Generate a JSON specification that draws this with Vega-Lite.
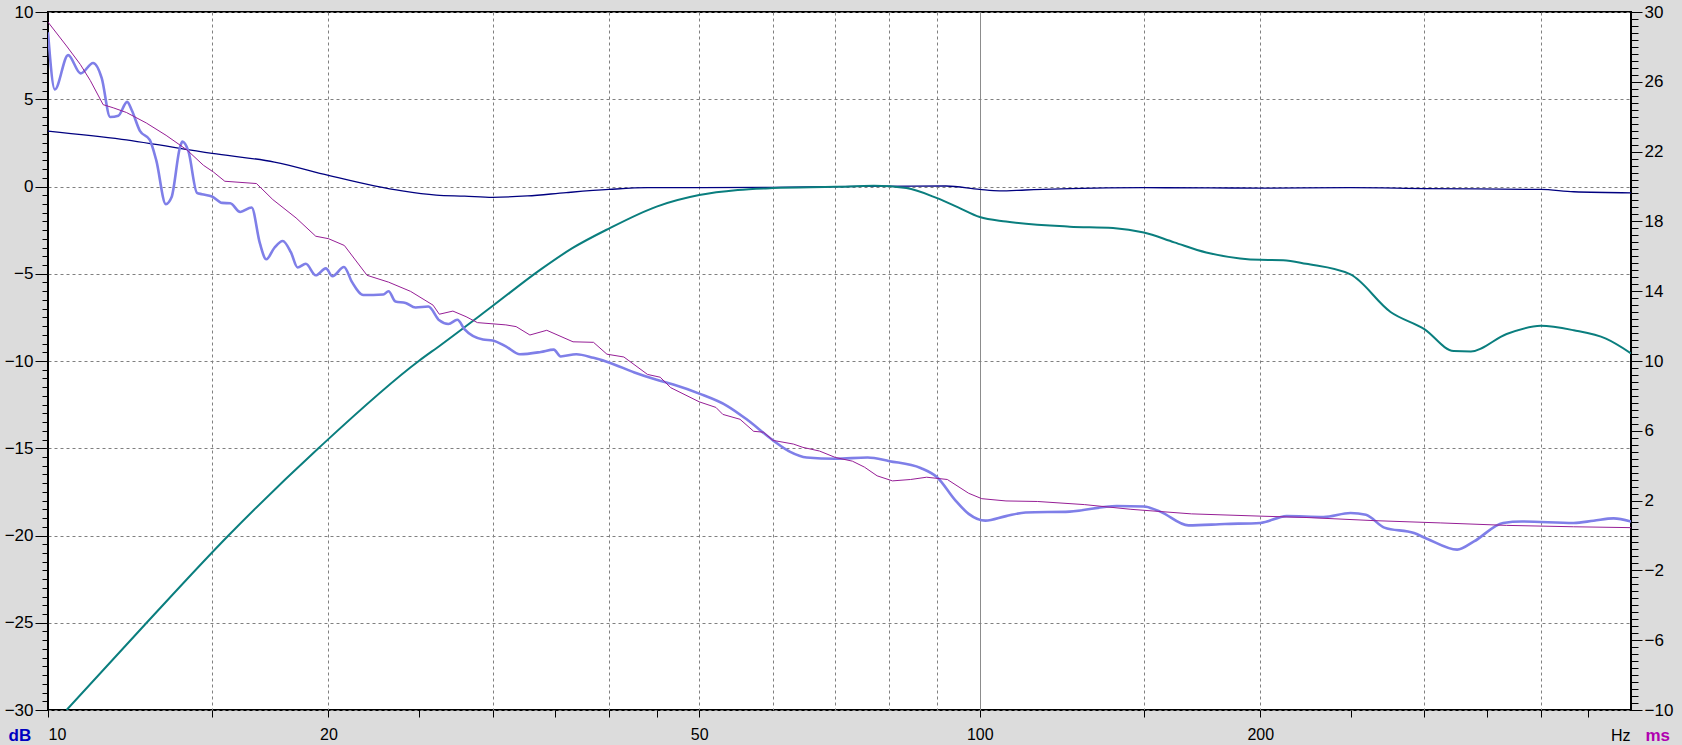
{
  "$schema": "https://vega.github.io/schema/vega-lite/v6.json",
  "width": 1583,
  "height": 698,
  "autosize": {"type": "none"},
  "padding": {"left": 48, "top": 12, "right": 51, "bottom": 35},
  "background": "#DCDCDC",
  "view": {"fill": "white", "stroke": "black", "strokeWidth": 2},
  "config": {
    "axis": {"labelFont": "Liberation Sans", "labelFontSize": 17, "labelColor": "black", "tickColor": "black", "tickWidth": 1, "domain": false, "grid": false, "titleFont": "Liberation Sans"}
  },
  "data": {"values": [
    {"s":"navy","f":10,"v":3.17},{"s":"navy","f":12,"v":2.7},{"s":"navy","f":15,"v":1.9},{"s":"navy","f":17.5,"v":1.4},{"s":"navy","f":20,"v":0.64},{"s":"navy","f":22.4,"v":0.04},{"s":"navy","f":24,"v":-0.25},{"s":"navy","f":26.1,"v":-0.49},{"s":"navy","f":28,"v":-0.55},{"s":"navy","f":30,"v":-0.62},{"s":"navy","f":32.7,"v":-0.54},{"s":"navy","f":36,"v":-0.35},{"s":"navy","f":40,"v":-0.17},{"s":"navy","f":44,"v":-0.07},{"s":"navy","f":50,"v":-0.07},{"s":"navy","f":60,"v":-0.05},{"s":"navy","f":74.5,"v":0.01},{"s":"navy","f":85,"v":0.02},{"s":"navy","f":92,"v":0.03},{"s":"navy","f":100,"v":-0.17},{"s":"navy","f":105,"v":-0.25},{"s":"navy","f":112,"v":-0.2},{"s":"navy","f":125,"v":-0.12},{"s":"navy","f":150,"v":-0.07},{"s":"navy","f":200,"v":-0.09},{"s":"navy","f":250,"v":-0.07},{"s":"navy","f":300,"v":-0.12},{"s":"navy","f":400,"v":-0.17},{"s":"navy","f":434,"v":-0.3},{"s":"navy","f":500,"v":-0.36},
    {"s":"teal","f":10.47,"v":-30},{"s":"teal","f":12.76,"v":-25},{"s":"teal","f":15.62,"v":-20},{"s":"teal","f":19.51,"v":-15},{"s":"teal","f":25,"v":-10},{"s":"teal","f":26.4,"v":-9.08},{"s":"teal","f":30,"v":-6.85},{"s":"teal","f":33.8,"v":-4.75},{"s":"teal","f":36.5,"v":-3.55},{"s":"teal","f":40,"v":-2.41},{"s":"teal","f":45,"v":-1.15},{"s":"teal","f":50,"v":-0.49},{"s":"teal","f":55,"v":-0.2},{"s":"teal","f":60,"v":-0.09},{"s":"teal","f":70,"v":-0.02},{"s":"teal","f":77,"v":0.04},{"s":"teal","f":83.4,"v":-0.09},{"s":"teal","f":90,"v":-0.67},{"s":"teal","f":94.8,"v":-1.2},{"s":"teal","f":100,"v":-1.75},{"s":"teal","f":106.7,"v":-2.01},{"s":"teal","f":124.9,"v":-2.3},{"s":"teal","f":139,"v":-2.38},{"s":"teal","f":150,"v":-2.64},{"s":"teal","f":161.7,"v":-3.2},{"s":"teal","f":175,"v":-3.78},{"s":"teal","f":190.3,"v":-4.12},{"s":"teal","f":200,"v":-4.2},{"s":"teal","f":211.7,"v":-4.22},{"s":"teal","f":224,"v":-4.43},{"s":"teal","f":250,"v":-5.04},{"s":"teal","f":276,"v":-7.19},{"s":"teal","f":300,"v":-8.17},{"s":"teal","f":322.6,"v":-9.43},{"s":"teal","f":336.6,"v":-9.45},{"s":"teal","f":367.7,"v":-8.45},{"s":"teal","f":400,"v":-7.98},{"s":"teal","f":434,"v":-8.24},{"s":"teal","f":470,"v":-8.72},{"s":"teal","f":500,"v":-9.56},
    {"s":"lb","f":10,"v":28.84},{"s":"lb","f":10.17,"v":25.56},{"s":"lb","f":10.51,"v":27.53},{"s":"lb","f":10.84,"v":26.48},{"s":"lb","f":11.18,"v":27.08},{"s":"lb","f":11.42,"v":26.21},{"s":"lb","f":11.66,"v":23.98},{"s":"lb","f":11.9,"v":24.06},{"s":"lb","f":12.16,"v":24.85},{"s":"lb","f":12.3,"v":24.37},{"s":"lb","f":12.55,"v":23.19},{"s":"lb","f":12.86,"v":22.67},{"s":"lb","f":13.07,"v":21.48},{"s":"lb","f":13.38,"v":18.99},{"s":"lb","f":13.57,"v":19.38},{"s":"lb","f":13.86,"v":22.27},{"s":"lb","f":13.94,"v":22.57},{"s":"lb","f":14.15,"v":22.01},{"s":"lb","f":14.45,"v":19.64},{"s":"lb","f":14.63,"v":19.56},{"s":"lb","f":15,"v":19.43},{"s":"lb","f":15.38,"v":19.06},{"s":"lb","f":15.69,"v":19.04},{"s":"lb","f":16.08,"v":18.54},{"s":"lb","f":16.54,"v":18.8},{"s":"lb","f":16.88,"v":16.75},{"s":"lb","f":17.15,"v":15.83},{"s":"lb","f":17.5,"v":16.49},{"s":"lb","f":17.86,"v":16.88},{"s":"lb","f":18.23,"v":16.22},{"s":"lb","f":18.53,"v":15.36},{"s":"lb","f":18.91,"v":15.57},{"s":"lb","f":19.38,"v":14.91},{"s":"lb","f":19.87,"v":15.31},{"s":"lb","f":20.2,"v":14.86},{"s":"lb","f":20.78,"v":15.39},{"s":"lb","f":21.2,"v":14.52},{"s":"lb","f":21.8,"v":13.78},{"s":"lb","f":22.9,"v":13.81},{"s":"lb","f":23.2,"v":14.0},{"s":"lb","f":23.6,"v":13.41},{"s":"lb","f":24.2,"v":13.33},{"s":"lb","f":24.8,"v":13.07},{"s":"lb","f":25.6,"v":13.12},{"s":"lb","f":26.3,"v":12.33},{"s":"lb","f":26.9,"v":12.12},{"s":"lb","f":27.5,"v":12.36},{"s":"lb","f":28,"v":11.81},{"s":"lb","f":29.3,"v":11.23},{"s":"lb","f":30,"v":11.18},{"s":"lb","f":31,"v":10.84},{"s":"lb","f":32.1,"v":10.39},{"s":"lb","f":33.8,"v":10.52},{"s":"lb","f":34.9,"v":10.65},{"s":"lb","f":35.5,"v":10.26},{"s":"lb","f":36.9,"v":10.39},{"s":"lb","f":38.5,"v":10.18},{"s":"lb","f":40,"v":9.92},{"s":"lb","f":42.6,"v":9.34},{"s":"lb","f":45,"v":8.92},{"s":"lb","f":46.9,"v":8.65},{"s":"lb","f":50,"v":8.13},{"s":"lb","f":53.6,"v":7.42},{"s":"lb","f":56.3,"v":6.63},{"s":"lb","f":60,"v":5.45},{"s":"lb","f":62.6,"v":4.79},{"s":"lb","f":65.2,"v":4.47},{"s":"lb","f":70,"v":4.4},{"s":"lb","f":75.8,"v":4.47},{"s":"lb","f":80,"v":4.26},{"s":"lb","f":86.4,"v":3.87},{"s":"lb","f":90,"v":3.34},{"s":"lb","f":94.1,"v":2.03},{"s":"lb","f":97.3,"v":1.24},{"s":"lb","f":101.4,"v":0.85},{"s":"lb","f":106.7,"v":1.11},{"s":"lb","f":112,"v":1.32},{"s":"lb","f":124.9,"v":1.37},{"s":"lb","f":140.3,"v":1.69},{"s":"lb","f":150,"v":1.66},{"s":"lb","f":156.2,"v":1.37},{"s":"lb","f":167.5,"v":0.58},{"s":"lb","f":183.3,"v":0.66},{"s":"lb","f":200,"v":0.72},{"s":"lb","f":213.5,"v":1.11},{"s":"lb","f":233.9,"v":1.06},{"s":"lb","f":250,"v":1.29},{"s":"lb","f":259.7,"v":1.19},{"s":"lb","f":271.8,"v":0.45},{"s":"lb","f":292.5,"v":0.14},{"s":"lb","f":302.4,"v":-0.2},{"s":"lb","f":325.4,"v":-0.81},{"s":"lb","f":339.2,"v":-0.34},{"s":"lb","f":364.5,"v":0.72},{"s":"lb","f":382,"v":0.8},{"s":"lb","f":434,"v":0.72},{"s":"lb","f":456,"v":0.85},{"s":"lb","f":479,"v":0.98},{"s":"lb","f":500,"v":0.8},
    {"s":"pu","f":10,"v":29.42},{"s":"pu","f":10.47,"v":28.05},{"s":"pu","f":10.83,"v":27.0},{"s":"pu","f":11.1,"v":26.08},{"s":"pu","f":11.46,"v":24.69},{"s":"pu","f":11.75,"v":24.51},{"s":"pu","f":12.14,"v":24.24},{"s":"pu","f":12.75,"v":23.64},{"s":"pu","f":13.39,"v":22.93},{"s":"pu","f":14.1,"v":22.09},{"s":"pu","f":14.68,"v":21.22},{"s":"pu","f":15.05,"v":20.83},{"s":"pu","f":15.48,"v":20.3},{"s":"pu","f":16.74,"v":20.17},{"s":"pu","f":17.43,"v":19.25},{"s":"pu","f":18.46,"v":18.2},{"s":"pu","f":19.38,"v":17.15},{"s":"pu","f":20,"v":17.01},{"s":"pu","f":20.8,"v":16.62},{"s":"pu","f":22,"v":14.91},{"s":"pu","f":23.2,"v":14.52},{"s":"pu","f":24.5,"v":13.99},{"s":"pu","f":25.9,"v":13.2},{"s":"pu","f":26.3,"v":12.68},{"s":"pu","f":27.2,"v":12.86},{"s":"pu","f":28.1,"v":12.54},{"s":"pu","f":28.9,"v":12.2},{"s":"pu","f":31,"v":12.07},{"s":"pu","f":31.8,"v":11.97},{"s":"pu","f":32.9,"v":11.49},{"s":"pu","f":34.3,"v":11.76},{"s":"pu","f":36.6,"v":11.1},{"s":"pu","f":38.5,"v":11.07},{"s":"pu","f":39.8,"v":10.39},{"s":"pu","f":41.5,"v":10.23},{"s":"pu","f":44,"v":9.23},{"s":"pu","f":45.4,"v":9.07},{"s":"pu","f":46.6,"v":8.47},{"s":"pu","f":50,"v":7.66},{"s":"pu","f":52.1,"v":7.34},{"s":"pu","f":53,"v":6.94},{"s":"pu","f":55.3,"v":6.66},{"s":"pu","f":57.2,"v":5.97},{"s":"pu","f":58.6,"v":5.92},{"s":"pu","f":60,"v":5.45},{"s":"pu","f":63.1,"v":5.24},{"s":"pu","f":64.6,"v":5.05},{"s":"pu","f":67.3,"v":4.84},{"s":"pu","f":70,"v":4.47},{"s":"pu","f":73,"v":4.26},{"s":"pu","f":75.2,"v":3.92},{"s":"pu","f":77.6,"v":3.42},{"s":"pu","f":80.6,"v":3.13},{"s":"pu","f":84.3,"v":3.21},{"s":"pu","f":87.7,"v":3.34},{"s":"pu","f":92.3,"v":3.21},{"s":"pu","f":97.3,"v":2.42},{"s":"pu","f":100.5,"v":2.11},{"s":"pu","f":106.7,"v":1.98},{"s":"pu","f":115.3,"v":1.95},{"s":"pu","f":129.6,"v":1.77},{"s":"pu","f":145.3,"v":1.5},{"s":"pu","f":168.7,"v":1.24},{"s":"pu","f":200,"v":1.11},{"s":"pu","f":224.5,"v":1.03},{"s":"pu","f":265.5,"v":0.85},{"s":"pu","f":312.5,"v":0.72},{"s":"pu","f":367.7,"v":0.58},{"s":"pu","f":434,"v":0.5},{"s":"pu","f":500,"v":0.45}
  ]},
  "layer": [
    {
      "transform": [{"filter": "datum.s == 'navy'"}],
      "mark": {"type": "line", "color": "#000080", "strokeWidth": 1.3, "interpolate": "monotone", "clip": true},
      "encoding": {
        "x": {"field": "f", "type": "quantitative",
          "scale": {"type": "log", "domain": [10, 500], "nice": false},
          "axis": {"orient": "bottom", "values": [10,15,20,25,30,35,40,45,50,100,150,200,250,300,350,400,450],
            "grid": false, "tickSize": 7, "labelPadding": 9, "labelFlush": true, "labelFontSize": 16,
            "labelExpr": "(datum.value == 10 || datum.value == 20 || datum.value == 50 || datum.value == 100 || datum.value == 200) ? '' + datum.value : ''",
            "title": "Hz", "titleX": 1582, "titleY": 25, "titleAlign": "right", "titleBaseline": "middle", "titleAnchor": null, "titleFontWeight": "normal", "titleFontSize": 16, "titleColor": "black"}},
        "y": {"field": "v", "type": "quantitative",
          "scale": {"domain": [-30, 10], "nice": false, "zero": false},
          "axis": {"orient": "left", "values": [-30,-25,-20,-15,-10,-5,0,5,10], "tickSize": 13, "labelPadding": 2,
            "grid": true, "gridDash": [3,3], "gridColor": "#808080", "gridWidth": 1,
            "title": "dB", "titleAngle": 0, "titleX": -40, "titleY": 723, "titleAlign": "left", "titleBaseline": "middle", "titleColor": "#0000C0", "titleFontWeight": "bold", "titleFontSize": 17}}
      }
    },
    {
      "transform": [{"filter": "datum.s == 'teal'"}],
      "mark": {"type": "line", "color": "#0A7E7E", "strokeWidth": 2, "interpolate": "monotone", "clip": true},
      "encoding": {
        "x": {"field": "f", "type": "quantitative",
          "scale": {"type": "log", "domain": [10, 500], "nice": false},
          "axis": {"orient": "bottom", "values": [15,20,30,40,50,60,70,80,90,150,200,300,400], "grid": true, "gridDash": [3,3], "gridColor": "#808080", "gridWidth": 1, "ticks": false, "labels": false, "title": null}},
        "y": {"field": "v", "type": "quantitative",
          "scale": {"domain": [-30, 10], "nice": false, "zero": false},
          "axis": {"orient": "left", "values": [-30,-29.5,-29,-28.5,-28,-27.5,-27,-26.5,-26,-25.5,-25,-24.5,-24,-23.5,-23,-22.5,-22,-21.5,-21,-20.5,-20,-19.5,-19,-18.5,-18,-17.5,-17,-16.5,-16,-15.5,-15,-14.5,-14,-13.5,-13,-12.5,-12,-11.5,-11,-10.5,-10,-9.5,-9,-8.5,-8,-7.5,-7,-6.5,-6,-5.5,-5,-4.5,-4,-3.5,-3,-2.5,-2,-1.5,-1,-0.5,0,0.5,1,1.5,2,2.5,3,3.5,4,4.5,5,5.5,6,6.5,7,7.5,8,8.5,9,9.5,10], "tickSize": 6, "labels": false, "grid": false, "title": null}}
      }
    },
    {
      "transform": [{"filter": "datum.s == 'lb'"}],
      "mark": {"type": "line", "color": "#7F7FE8", "strokeWidth": 2.6, "interpolate": "monotone", "clip": true},
      "encoding": {
        "x": {"field": "f", "type": "quantitative",
          "scale": {"type": "log", "domain": [10, 500], "nice": false},
          "axis": {"orient": "bottom", "values": [100], "grid": true, "gridColor": "#8C8C8C", "gridWidth": 1, "ticks": false, "labels": false, "title": null}},
        "y": {"field": "v", "type": "quantitative",
          "scale": {"domain": [-10, 30], "nice": false, "zero": false},
          "axis": {"orient": "right", "values": [-10,-6,-2,2,6,10,14,18,22,26,30], "tickSize": 11, "labelPadding": 2, "grid": false,
            "title": "ms", "titleAngle": 0, "titleX": 14, "titleY": 723, "titleAlign": "left", "titleBaseline": "middle", "titleColor": "#B000B0", "titleFontWeight": "bold", "titleFontSize": 17}}
      }
    },
    {
      "transform": [{"filter": "datum.s == 'pu'"}],
      "mark": {"type": "line", "color": "#961E96", "strokeWidth": 1, "clip": true},
      "encoding": {
        "x": {"field": "f", "type": "quantitative",
          "scale": {"type": "log", "domain": [10, 500], "nice": false}, "axis": null},
        "y": {"field": "v", "type": "quantitative",
          "scale": {"domain": [-10, 30], "nice": false, "zero": false},
          "axis": {"orient": "right", "values": [-10,-9.6,-9.2,-8.8,-8.4,-8,-7.6,-7.2,-6.8,-6.4,-6,-5.6,-5.2,-4.8,-4.4,-4,-3.6,-3.2,-2.8,-2.4,-2,-1.6,-1.2,-0.8,-0.4,0,0.4,0.8,1.2,1.6,2,2.4,2.8,3.2,3.6,4,4.4,4.8,5.2,5.6,6,6.4,6.8,7.2,7.6,8,8.4,8.8,9.2,9.6,10,10.4,10.8,11.2,11.6,12,12.4,12.8,13.2,13.6,14,14.4,14.8,15.2,15.6,16,16.4,16.8,17.2,17.6,18,18.4,18.8,19.2,19.6,20,20.4,20.8,21.2,21.6,22,22.4,22.8,23.2,23.6,24,24.4,24.8,25.2,25.6,26,26.4,26.8,27.2,27.6,28,28.4,28.8,29.2,29.6,30], "tickSize": 7, "labels": false, "grid": false, "title": null}}
      }
    }
  ],
  "resolve": {"scale": {"y": "independent"}, "axis": {"x": "independent", "y": "independent"}}
}
